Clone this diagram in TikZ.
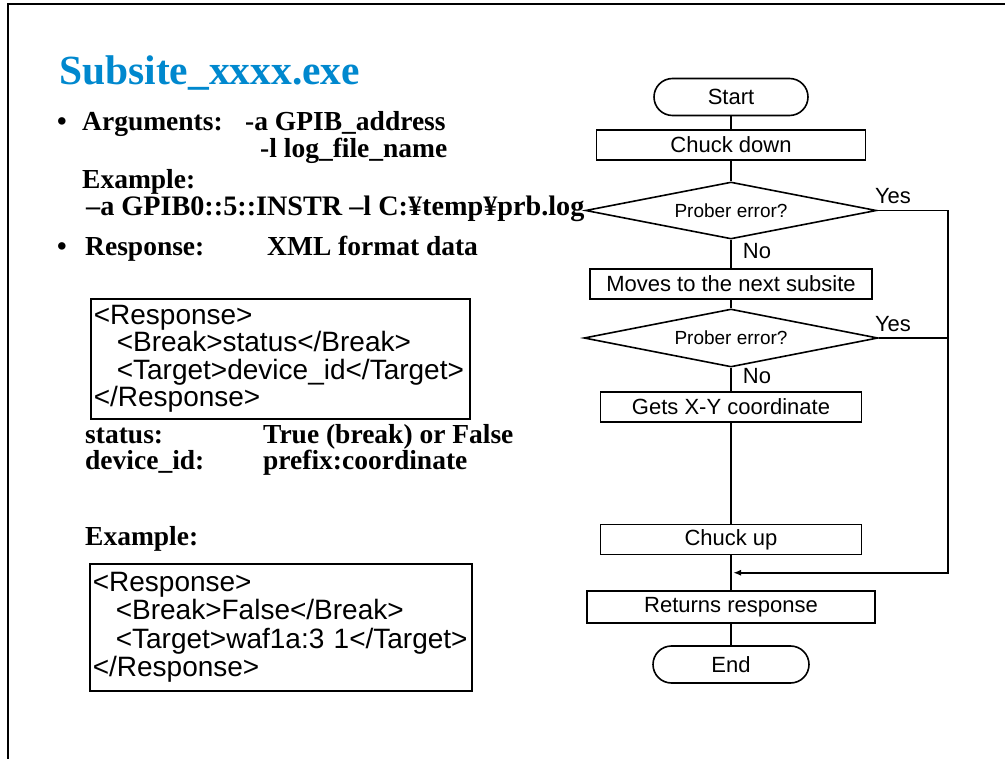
\documentclass[tikz,border=0pt]{standalone}
\usepackage{fontspec}
\setmainfont{Liberation Serif}
\newfontfamily\arialfont{Liberation Sans}
\usepackage{tikz}
\usetikzlibrary{shapes,arrows.meta,positioning,calc}
\definecolor{TitleBlue}{RGB}{0, 136, 206}

\tikzset{
  bodytext/.style={inner sep=0, anchor=base west, font=\bfseries\fontsize{27.5}{27.5}\selectfont},
  codebox/.style={draw, line width=1.6pt, anchor=north west, align=left, inner xsep=3pt, inner ysep=0pt,
    font=\arialfont\fontsize{28}{27.5}\selectfont},
  term/.style={draw, line width=1.6pt, rounded corners=18.5pt, minimum width=154pt, minimum height=37pt,
    inner sep=0, font=\arialfont\fontsize{22}{22}\selectfont},
  proc/.style={draw, line width=1.6pt, minimum height=30pt, inner sep=0, font=\arialfont\fontsize{22}{22}\selectfont},
  decide/.style={draw, line width=1.6pt, diamond, aspect=5, inner sep=0, minimum width=291pt, minimum height=57pt,
    font=\arialfont\fontsize{19}{19}\selectfont},
  flow/.style={line width=1.6pt},
  lbl/.style={inner sep=0, font=\arialfont\fontsize{22}{22}\selectfont}
}

\begin{document}
\begin{tikzpicture}[x=1pt, y=-1pt]
\useasboundingbox (0,0) rectangle (1005,759);

% Slide frame
\draw[line width=1.6pt] (8,759) -- (8,4) -- (1005,4);

% Title
\node[inner sep=0, anchor=base west, text=TitleBlue, font=\bfseries\fontsize{41.5}{41.5}\selectfont] (title) at (59,85) {Subsite\_xxxx.exe};

% Arguments
\node[bodytext] (bul1) at (57,131) {\textbullet};
\node[bodytext] (args) at (82,131) {Arguments:};
\node[bodytext] (argaddr) at (245,131) {-a GPIB\_address};
\node[bodytext] (arglog) at (260,158) {-l log\_file\_name};
\node[bodytext] (exhead) at (82,189) {Example:};
\node[bodytext, font=\bfseries\fontsize{28.2}{28.2}\selectfont] (exline) at (86,216) {–a GPIB0::5::INSTR –l C:¥temp¥prb.log};

% Response
\node[bodytext] (bul2) at (57,256) {\textbullet};
\node[bodytext] (resp) at (85,256) {Response:};
\node[bodytext] (respfmt) at (267,256) {XML format data};

\node[codebox, text width=373pt, minimum height=120pt] (xmlbox) at (90,298) {<Response>\\
\hspace*{23pt}<Break>status</Break>\\
\hspace*{23pt}<Target>device\_id</Target>\\
</Response>};

\node[bodytext] (statkey) at (85,444) {status:};
\node[bodytext] (statval) at (263,444) {True (break) or False};
\node[bodytext] (devkey) at (85,470) {device\_id:};
\node[bodytext] (devval) at (263,470) {prefix:coordinate};

\node[bodytext] (exhead2) at (85,545) {Example:};
\node[codebox, text width=376pt, minimum height=127pt, font=\arialfont\fontsize{28}{28.5}\selectfont] (xmlex) at (89,563) {<Response>\\
\hspace*{23pt}<Break>False</Break>\\
\hspace*{23pt}<Target>waf1a:3 1</Target>\\
</Response>};

% Flowchart
\node[term] (start) at (731,97) {Start};
\node[proc, minimum width=269pt] (cdown) at (731,145) {Chuck down};
\node[decide] (err1) at (731,210.5) {Prober error?};
\node[proc, minimum width=282pt] (next) at (731,284) {Moves to the next subsite};
\node[decide, minimum width=294pt, minimum height=58pt] (err2) at (731,338) {Prober error?};
\node[proc, minimum width=261pt] (getxy) at (731,407) {Gets X-Y coordinate};
\node[proc, minimum width=261pt] (cup) at (731,539.5) {Chuck up};
\node[proc, minimum width=288pt, minimum height=32pt] (ret) at (731,607) {Returns response};
\node[term, minimum width=156pt] (stop) at (731,664.5) {End};

\node[lbl] (yes1) at (893,196) {Yes};
\node[lbl] (no1) at (757,251) {No};
\node[lbl] (yes2) at (893,324) {Yes};
\node[lbl] (no2) at (757,376) {No};

\coordinate (rail) at (948,0);
\coordinate (join) at ($(cup.south)!0.5!(ret.north)$);

\draw[flow] (start) -- (cdown);
\draw[flow] (cdown) -- (err1);
\draw[flow] (err1) -- (next);
\draw[flow] (next) -- (err2);
\draw[flow] (err2) -- (getxy);
\draw[flow] (getxy) -- (cup);
\draw[flow] (cup) -- (ret);
\draw[flow] (ret) -- (stop);

% Yes branches
\draw[flow, -{Latex[length=8pt,width=6pt]}] (err1.east) -- (err1.east -| rail) |- ([xshift=2pt]join);
\draw[flow] (err2.east) -- (err2.east -| rail);
\end{tikzpicture}
\end{document}
